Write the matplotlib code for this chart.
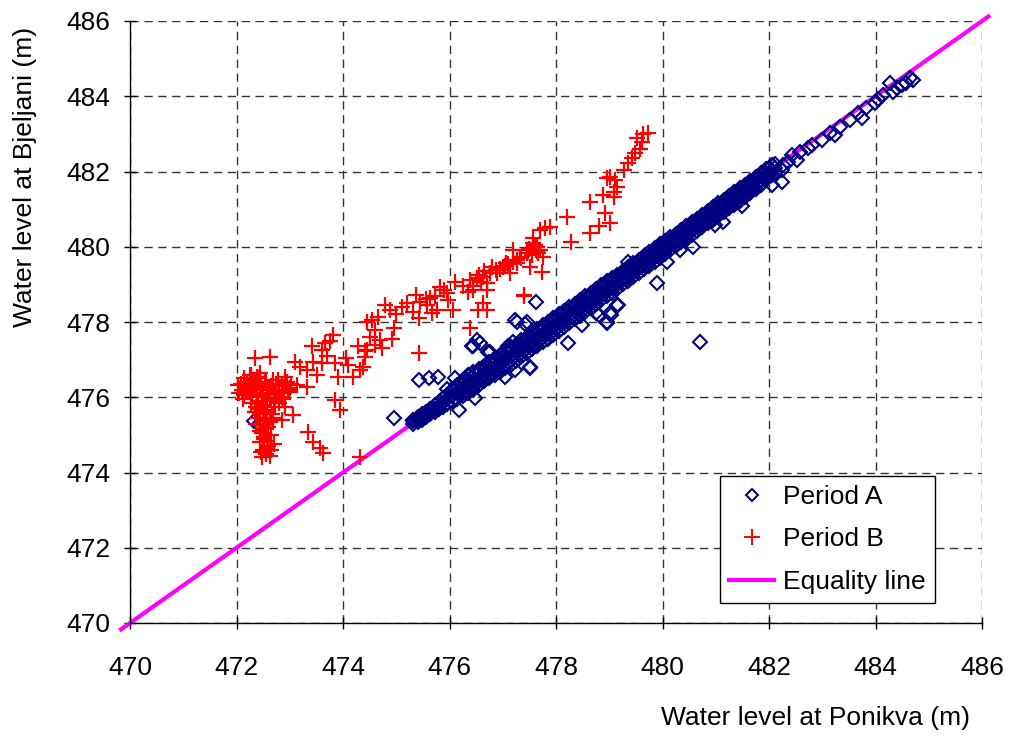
import matplotlib
matplotlib.use("Agg")
import matplotlib.pyplot as plt
from matplotlib.lines import Line2D

plt.rcParams['font.family'] = ['Liberation Sans', 'DejaVu Sans']

# ---------------- data ----------------
# Period A: dense band (x, y_low, y_mid, y_high)
band_rows = [
    (475.32, 475.30, 475.36, 475.40), (475.40, 475.33, 475.42, 475.47),
    (475.48, 475.40, 475.47, 475.55), (475.56, 475.47, 475.55, 475.62),
    (475.64, 475.55, 475.62, 475.70), (475.72, 475.62, 475.70, 475.80),
    (475.80, 475.68, 475.78, 475.88), (475.88, 475.75, 475.86, 475.97),
    (475.96, 475.83, 475.95, 476.05),
    (476.05, 475.90, 476.03, 476.18), (476.15, 475.96, 476.12, 476.32),
    (476.25, 476.03, 476.24, 476.46), (476.35, 476.12, 476.33, 476.58),
    (476.45, 476.20, 476.42, 476.66), (476.55, 476.32, 476.50, 476.74),
    (476.65, 476.42, 476.61, 476.83), (476.75, 476.51, 476.71, 476.93),
    (476.85, 476.58, 476.80, 477.03), (476.95, 476.67, 476.90, 477.13),
    (477.05, 476.77, 476.99, 477.22), (477.15, 476.87, 477.09, 477.30),
    (477.25, 476.97, 477.19, 477.40), (477.35, 477.07, 477.28, 477.52),
    (477.45, 477.17, 477.39, 477.61), (477.55, 477.27, 477.49, 477.70),
    (477.65, 477.36, 477.58, 477.81), (477.75, 477.47, 477.69, 477.91),
    (477.85, 477.55, 477.78, 478.01), (477.95, 477.65, 477.88, 478.11),
    (478.05, 477.76, 477.98, 478.21), (478.15, 477.87, 478.08, 478.30),
    (478.25, 477.97, 478.17, 478.40), (478.35, 478.07, 478.28, 478.49),
    (478.45, 478.17, 478.37, 478.58), (478.55, 478.27, 478.47, 478.68),
    (478.65, 478.37, 478.57, 478.78), (478.75, 478.48, 478.67, 478.88),
    (478.85, 478.58, 478.77, 478.98), (478.95, 478.68, 478.87, 479.08),
    (479.05, 478.78, 478.97, 479.17), (479.15, 478.89, 479.07, 479.26),
    (479.25, 479.00, 479.17, 479.36), (479.35, 479.10, 479.27, 479.46),
    (479.45, 479.20, 479.37, 479.56), (479.55, 479.30, 479.47, 479.66),
    (479.65, 479.40, 479.57, 479.76), (479.75, 479.50, 479.67, 479.86),
    (479.85, 479.60, 479.77, 479.96), (479.95, 479.70, 479.87, 480.06),
    (480.05, 479.81, 479.97, 480.15), (480.15, 479.92, 480.07, 480.25),
    (480.25, 480.02, 480.17, 480.35), (480.35, 480.12, 480.27, 480.45),
    (480.45, 480.22, 480.37, 480.55), (480.55, 480.32, 480.47, 480.65),
    (480.65, 480.42, 480.57, 480.75), (480.75, 480.52, 480.67, 480.85),
    (480.85, 480.62, 480.77, 480.95), (480.95, 480.72, 480.87, 481.05),
    (481.05, 480.82, 480.97, 481.15), (481.15, 480.92, 481.07, 481.25),
    (481.25, 481.02, 481.17, 481.35), (481.35, 481.12, 481.27, 481.45),
    (481.45, 481.22, 481.37, 481.55), (481.55, 481.32, 481.47, 481.65),
    (481.65, 481.42, 481.57, 481.75), (481.75, 481.53, 481.67, 481.85),
    (481.85, 481.64, 481.77, 481.95), (481.95, 481.77, 481.90, 482.07),
    (482.05, 481.90, 482.02, 482.16), (482.12, 481.97, 482.08, 482.20),
]
# Period A: in-between readings of the dense band (x, y_a, y_b)
band_rows2 = [
    (476.10, 475.98, 476.20), (476.20, 476.08, 476.34), (476.30, 476.15, 476.44),
    (476.40, 476.27, 476.52), (476.50, 476.35, 476.62), (476.60, 476.45, 476.70),
    (476.70, 476.55, 476.80), (476.80, 476.64, 476.90), (476.90, 476.74, 477.00),
    (477.00, 476.84, 477.09), (477.10, 476.93, 477.19), (477.20, 477.03, 477.29),
    (477.30, 477.13, 477.40), (477.40, 477.22, 477.50), (477.50, 477.33, 477.59),
    (477.60, 477.42, 477.68), (477.70, 477.53, 477.79), (477.80, 477.62, 477.88),
    (477.90, 477.72, 477.98), (478.00, 477.82, 478.08), (478.10, 477.93, 478.18),
    (478.20, 478.03, 478.27), (478.30, 478.13, 478.37), (478.40, 478.23, 478.46),
    (478.50, 478.33, 478.56), (478.60, 478.43, 478.66), (478.70, 478.54, 478.76),
    (478.80, 478.64, 478.86), (478.90, 478.74, 478.96), (479.00, 478.84, 479.05),
    (479.10, 478.94, 479.15), (479.20, 479.05, 479.24), (479.30, 479.15, 479.34),
    (479.40, 479.25, 479.44), (479.50, 479.35, 479.54), (479.60, 479.45, 479.64),
    (479.70, 479.55, 479.74), (479.80, 479.65, 479.84), (479.90, 479.75, 479.94),
    (480.00, 479.86, 480.04), (480.10, 479.96, 480.13), (480.20, 480.06, 480.23),
    (480.30, 480.16, 480.33), (480.40, 480.26, 480.43), (480.50, 480.36, 480.53),
    (480.60, 480.46, 480.63), (480.70, 480.56, 480.73), (480.80, 480.66, 480.83),
    (480.90, 480.76, 480.93), (481.00, 480.86, 481.03), (481.10, 480.96, 481.13),
    (481.20, 481.06, 481.23), (481.30, 481.16, 481.33), (481.40, 481.26, 481.43),
    (481.50, 481.36, 481.53), (481.60, 481.46, 481.63), (481.70, 481.57, 481.73),
    (481.80, 481.68, 481.83), (481.90, 481.80, 481.96), (482.00, 481.90, 482.08),
]

# Period A: sparse / outlying points
a_extra_x = [474.96, 475.42, 475.62, 475.79, 476.10, 475.95, 476.17, 476.48,
             476.42, 476.51, 476.57, 476.73, 477.14, 477.20, 477.23, 477.51,
             477.04, 478.23, 478.48, 478.95, 477.26, 477.42, 477.63, 477.23,
             477.45, 476.45, 476.76, 477.10, 477.51, 478.80, 479.04, 478.95,
             479.17, 479.36, 479.89, 480.58, 480.33, 480.70, 481.49, 482.24,
             482.05, 481.14, 480.99, 480.08, 479.14, 479.01, 478.76,
             484.71, 484.65, 484.58, 484.49, 484.40, 484.27, 484.33, 484.15,
             484.05, 483.99, 483.83, 483.68, 483.74, 483.52, 483.33, 483.24,
             483.15, 482.99, 482.80, 482.74, 482.58, 482.43, 482.52, 482.36,
             482.27, 482.24, 472.32, 472.42]
a_extra_y = [475.44, 476.46, 476.50, 476.55, 476.50, 476.21, 475.66, 475.97,
             477.36, 477.52, 477.45, 477.21, 477.35, 477.48, 476.72, 476.77,
             476.55, 477.45, 477.92, 477.98, 478.00, 477.95, 478.54, 478.05,
             478.01, 477.35, 477.21, 477.35, 476.81, 478.19, 478.19, 478.01,
             478.45, 479.60, 479.03, 480.00, 479.91, 477.47, 481.07, 481.73,
             481.64, 480.67, 480.58, 479.60, 478.45, 478.23, 478.23,
             484.43, 484.48, 484.34, 484.30, 484.21, 484.34, 484.12, 484.03,
             483.94, 483.81, 483.68, 483.55, 483.41, 483.37, 483.19, 482.97,
             483.02, 482.84, 482.71, 482.62, 482.53, 482.44, 482.31, 482.26,
             482.17, 482.04, 475.38, 475.30]

# Period B
b_x = [
    # dense cluster near 472.5
    472.03, 472.05, 472.10, 472.15, 472.20, 472.22, 472.28, 472.30, 472.32,
    472.35, 472.38, 472.40, 472.42, 472.45, 472.48, 472.50, 472.52, 472.55,
    472.58, 472.60, 472.62, 472.65, 472.68, 472.70, 472.75, 472.80, 472.85,
    472.90, 472.95, 473.00, 472.25, 472.45, 472.40, 472.45, 472.50, 472.42,
    472.55, 472.48, 472.52, 472.58, 472.45, 472.60, 472.50, 472.55, 472.48,
    472.62, 472.40, 472.35, 472.58, 472.62, 472.65, 472.70, 472.38, 472.28,
    472.70, 472.75, 472.72, 472.80, 472.85, 472.15, 472.08, 472.91, 473.07,
    472.85, 472.12, 472.18, 472.33, 472.36, 472.44, 472.53, 472.57, 472.66,
    472.78, 472.88, 472.98, 473.03, 472.46, 472.56, 472.41, 472.60, 472.52,
    472.37, 472.64, 472.69, 472.26, 472.47,
    # lower-right tail of the cluster
    473.35, 473.44, 473.57, 473.63, 474.32, 473.85, 473.94,
    # rising band
    473.82, 473.66, 473.41, 473.60, 472.63, 472.35, 473.10, 473.44, 473.60,
    473.85, 473.32, 473.51, 473.91, 474.19, 474.32, 474.29, 474.41, 472.28,
    472.91, 472.54, 473.13, 473.32, 472.97, 473.20, 473.70, 474.05, 474.10,
    473.75, 474.50, 474.60,
    474.38, 474.41, 474.45, 474.69, 474.60, 474.73, 474.92, 474.95, 475.42,
    474.54, 474.66, 474.45, 474.79, 474.88, 475.10, 475.32, 475.42, 475.45,
    475.38, 475.57, 475.63, 475.73, 475.76, 475.82, 475.95, 475.98, 476.07,
    476.10, 476.35, 476.38, 476.45, 476.51, 476.63, 476.70, 476.70, 476.76,
    476.88, 477.01, 477.26, 477.45, 477.57, 477.70, 477.73, 476.54, 476.63,
    476.70, 477.39, 476.38, 475.20, 475.55, 475.90, 476.25, 475.00, 475.68,
    476.55, 476.80, 476.95, 477.10, 476.65, 476.90, 477.60, 477.50, 477.35,
    477.65, 477.55, 476.45, 476.60, 477.20, 477.05,
    # upper streak
    477.07, 477.14, 477.19, 477.26, 477.32, 477.45, 477.51, 477.57, 477.64,
    477.66, 477.76, 477.70, 477.80, 477.89, 477.39, 478.20, 478.29,
    478.64, 478.80, 479.01, 478.92, 478.64, 478.89, 479.08, 479.14, 479.08,
    479.11, 478.95, 479.01, 479.27, 479.36, 479.42, 479.48, 479.58, 479.61,
    479.52, 479.64, 479.73,
]
b_y = [
    476.33, 476.10, 476.20, 476.05, 476.40, 476.15, 476.25, 476.00, 476.45,
    476.30, 476.10, 475.90, 476.50, 476.35, 476.20, 476.00, 475.80, 476.40,
    476.25, 476.10, 475.95, 476.30, 476.45, 476.15, 476.35, 476.20, 476.30,
    476.10, 476.40, 476.25, 476.60, 476.65, 475.70, 475.55, 475.40, 475.25,
    475.15, 475.05, 474.95, 474.85, 474.80, 474.70, 474.60, 474.50, 474.40,
    474.45, 475.45, 475.60, 475.65, 475.35, 475.00, 474.75, 476.55, 475.85,
    475.90, 476.05, 475.75, 475.85, 476.00, 476.50, 476.35, 475.75, 475.53,
    475.40, 475.95, 476.28, 476.18, 475.75, 475.10, 475.60, 474.65, 475.55,
    476.45, 475.95, 476.20, 476.35, 474.55, 475.30, 475.85, 475.20, 474.90,
    475.30, 474.60, 475.45, 476.40, 476.05,
    475.08, 474.82, 474.64, 474.51, 474.42, 475.93, 475.66,
    477.65, 477.43, 477.35, 477.26, 477.08, 477.03, 476.95, 476.95, 476.90,
    476.90, 476.72, 476.59, 476.55, 476.55, 476.72, 477.35, 477.22, 476.59,
    476.55, 476.41, 476.33, 476.28, 476.15, 476.80, 477.10, 477.05, 476.85,
    477.50, 477.60, 477.80,
    476.81, 477.08, 477.26, 477.52, 477.39, 477.30, 477.56, 477.83, 477.17,
    478.05, 478.14, 478.00, 478.45, 478.32, 478.41, 478.27, 478.10, 478.54,
    478.72, 478.45, 478.63, 478.68, 478.32, 478.94, 478.76, 478.59, 478.32,
    479.07, 478.81, 479.12, 478.85, 479.16, 479.20, 478.85, 479.03, 479.29,
    479.38, 479.47, 479.65, 479.83, 480.09, 479.91, 479.34, 478.32, 478.50,
    478.32, 478.68, 477.83, 478.50, 478.60, 478.85, 478.95, 478.20, 478.25,
    479.25, 479.45, 479.40, 479.55, 479.35, 479.30, 480.05, 479.95, 479.70,
    479.90, 479.78, 478.95, 479.05, 479.60, 479.50,
    479.56, 479.29, 479.91, 479.56, 479.74, 479.91, 479.47, 480.22, 480.00,
    479.83, 479.74, 480.45, 480.50, 480.53, 478.72, 480.80, 480.13,
    480.37, 480.55, 480.62, 480.91, 481.20, 481.38, 481.33, 481.60, 481.46,
    481.77, 481.82, 481.86, 482.04, 482.22, 482.35, 482.48, 482.59, 482.79,
    482.88, 483.00, 483.02,
]

equality_x = [469.8, 486.15]
equality_y = [469.8, 486.15]

x_ticks = [470, 472, 474, 476, 478, 480, 482, 484, 486]
y_ticks = [470, 472, 474, 476, 478, 480, 482, 484, 486]

# ---------------- build Period A arrays ----------------
a_x, a_y = [], []
for row in band_rows + band_rows2:
    for yy in row[1:]:
        a_x.append(row[0])
        a_y.append(yy)
a_x += a_extra_x
a_y += a_extra_y

FS = 19

# ---------------- plot ----------------
fig = plt.figure(figsize=(10.12, 7.38), dpi=100)
ax = fig.add_axes([130 / 1012, 1 - 623 / 738, 852 / 1012, 602 / 738])

ax.plot(equality_x, equality_y, color='#FF00FF', lw=3, clip_on=False, zorder=2,
        solid_capstyle='butt')
ax.plot(a_x, a_y, linestyle='none', marker='D', markersize=7.5,
        markerfacecolor='none', markeredgecolor='#000080', markeredgewidth=1.5,
        zorder=3)
ax.plot(b_x, b_y, linestyle='none', marker='+', markersize=11.5,
        color='#FF0000', markeredgewidth=1.6, zorder=4)

ax.set_xlim(470, 486)
ax.set_ylim(470, 486)
ax.set_xticks(x_ticks)
ax.set_yticks(y_ticks)
ax.set_xticklabels([str(t) for t in x_ticks])
ax.set_yticklabels([str(t) for t in y_ticks])
ax.grid(True, color='#333333', linestyle=(0, (6, 4)), linewidth=1.0)
ax.set_axisbelow(True)
for s in ['top', 'right']:
    ax.spines[s].set_visible(False)
for s in ['left', 'bottom']:
    ax.spines[s].set_linewidth(1.0)
    ax.spines[s].set_color('black')
ax.tick_params(axis='both', direction='inout', length=8, width=1,
               labelsize=FS, colors='black')
ax.tick_params(axis='x', pad=20)
ax.tick_params(axis='y', pad=10)

handles = [
    Line2D([], [], linestyle='none', marker='D', markersize=6,
           markerfacecolor='none', markeredgecolor='#000080', markeredgewidth=1.5),
    Line2D([], [], linestyle='none', marker='+', markersize=11, color='#FF0000',
           markeredgewidth=1.4),
    Line2D([], [], color='#FF00FF', lw=3),
]
leg = ax.legend(handles, ['Period A', 'Period B', 'Equality line'],
                loc='lower right', bbox_to_anchor=(0.945, 0.033),
                fontsize=FS, frameon=True, fancybox=False, shadow=False,
                framealpha=1, edgecolor='black', labelspacing=0.7,
                handlelength=1.7, handletextpad=0.35, borderpad=0.35,
                borderaxespad=0)
leg.get_frame().set_linewidth(1.0)

fig.text(970 / 1012, 1 - 718 / 738, 'Water level at Ponikva (m)',
         ha='right', va='center', fontsize=FS)
fig.text(25 / 1012, 1 - 27 / 738, 'Water level at Bjeljani (m)',
         ha='center', va='top', rotation=90, fontsize=FS)

fig.savefig('out.png', dpi=100)
